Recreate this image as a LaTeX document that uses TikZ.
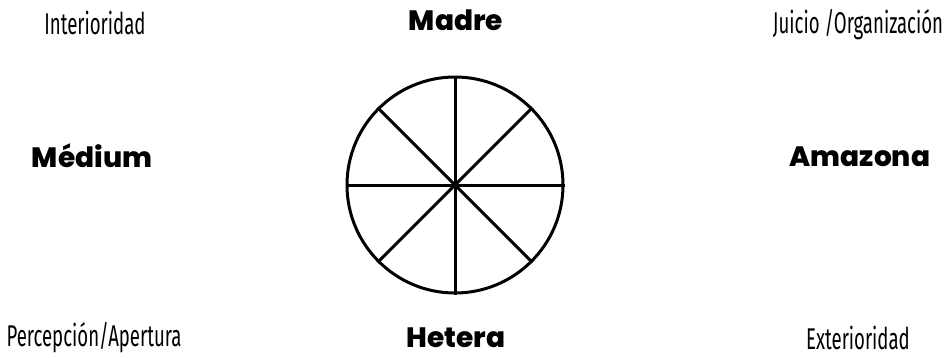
\documentclass[tikz,border=0pt]{standalone}
\usepackage{fontspec}
\setmainfont{Poppins}[BoldFont={* ExtraBold}]
\newfontfamily\condfont[FakeStretch=0.62]{Fira Sans}
\usepackage{tikz}
\usetikzlibrary{positioning}

\begin{document}
\begin{tikzpicture}[
  x=1pt, y=-1pt,
  archetype/.style={font=\fontsize{28}{30}\selectfont\bfseries, inner sep=0pt},
  pole/.style={font=\fontsize{30}{32}\selectfont\condfont, inner sep=0pt},
  spoke/.style={line width=3pt}
]
\useasboundingbox (0,0) rectangle (949,357);

% Wheel
\node[circle, draw, line width=3pt, minimum size=216pt, inner sep=0pt] (wheel) at (455,185) {};
\draw[spoke] (wheel.north) -- (wheel.south);
\draw[spoke] (wheel.west) -- (wheel.east);
\draw[spoke] (wheel.45) -- (wheel.225);
\draw[spoke] (wheel.135) -- (wheel.315);

% Archetypes
\node[archetype] (madre) at (456,20) {Madre};
\node[archetype] (hetera) at (456,338) {Hetera};
\node[archetype] (medium) at (92,156) {Médium};
\node[archetype] (amazona) at (860,157) {Amazona};

% Poles
\node[pole] (interior) at (95,23) {Interioridad};
\node[pole] (juicio) at (858,25) {Juicio /Organización};
\node[pole] (percep) at (94,338) {Percepción/Apertura};
\node[pole] (exterior) at (858,338) {Exterioridad};

\end{tikzpicture}
\end{document}
